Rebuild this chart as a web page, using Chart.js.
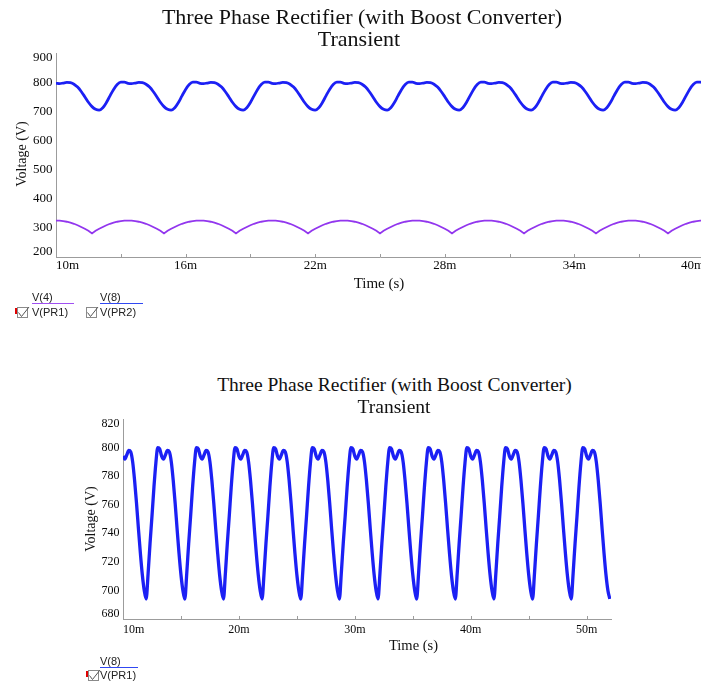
<!DOCTYPE html>
<html>
<head>
<meta charset="utf-8">
<title>Three Phase Rectifier (with Boost Converter)</title>
<script src="https://cdn.jsdelivr.net/npm/chart.js@4.4.1/dist/chart.umd.min.js"></script>
<style>
  html, body { margin: 0; padding: 0; background: #fff; overflow: hidden; }
  #page { position: relative; width: 701px; height: 682px; overflow: hidden; background: #fff; }
  canvas { position: absolute; left: 0; }
  .txt { position: absolute; white-space: nowrap; line-height: 1; color: #111; }
  .serif { font-family: "Liberation Serif", "Times New Roman", serif; }
  .sans { font-family: "Liberation Sans", Arial, sans-serif; color: #222; }
  .c { transform: translate(-50%, -50%); }
  .rot { transform: translate(-50%, -50%) rotate(-90deg); }
  .lg { transform: translateY(-50%); }
  .swatch { position: absolute; }
  .mark { position: absolute; width: 2px; background: #e00000; }
  .box { position: absolute; }
</style>
</head>
<body>
<div id="page">
  <canvas id="topChart" width="720" height="287" style="top:0px;width:720px;height:287px"></canvas>
  <canvas id="bottomChart" width="701" height="250" style="top:399px;width:701px;height:250px"></canvas>

  <div class="txt serif c" style="left:362px;top:17px;font-size:22px">Three Phase Rectifier (with Boost Converter)</div>
  <div class="txt serif c" style="left:359px;top:39px;font-size:22px">Transient</div>
  <div class="txt serif rot" style="left:22px;top:154px;font-size:14px">Voltage (V)</div>
  <div class="txt serif c" style="left:379px;top:283px;font-size:15px">Time (s)</div>

  <div class="txt serif c" style="left:394.5px;top:385px;font-size:19.5px">Three Phase Rectifier (with Boost Converter)</div>
  <div class="txt serif c" style="left:394px;top:407px;font-size:19.5px">Transient</div>
  <div class="txt serif rot" style="left:91px;top:519px;font-size:14px">Voltage (V)</div>
  <div class="txt serif c" style="left:413.5px;top:645px;font-size:14.5px">Time (s)</div>

  <div id="legends"></div>
</div>

<script>
// Simulation time base, milliseconds (one sample every 1/6 ms)
const TIME_MS = [
  10,10.167,10.333,10.5,10.667,10.833,
  11,11.167,11.333,11.5,11.667,11.833,
  12,12.167,12.333,12.5,12.667,12.833,
  13,13.167,13.333,13.5,13.667,13.833,
  14,14.167,14.333,14.5,14.667,14.833,
  15,15.167,15.333,15.5,15.667,15.833,
  16,16.167,16.333,16.5,16.667,16.833,
  17,17.167,17.333,17.5,17.667,17.833,
  18,18.167,18.333,18.5,18.667,18.833,
  19,19.167,19.333,19.5,19.667,19.833,
  20,20.167,20.333,20.5,20.667,20.833,
  21,21.167,21.333,21.5,21.667,21.833,
  22,22.167,22.333,22.5,22.667,22.833,
  23,23.167,23.333,23.5,23.667,23.833,
  24,24.167,24.333,24.5,24.667,24.833,
  25,25.167,25.333,25.5,25.667,25.833,
  26,26.167,26.333,26.5,26.667,26.833,
  27,27.167,27.333,27.5,27.667,27.833,
  28,28.167,28.333,28.5,28.667,28.833,
  29,29.167,29.333,29.5,29.667,29.833,
  30,30.167,30.333,30.5,30.667,30.833,
  31,31.167,31.333,31.5,31.667,31.833,
  32,32.167,32.333,32.5,32.667,32.833,
  33,33.167,33.333,33.5,33.667,33.833,
  34,34.167,34.333,34.5,34.667,34.833,
  35,35.167,35.333,35.5,35.667,35.833,
  36,36.167,36.333,36.5,36.667,36.833,
  37,37.167,37.333,37.5,37.667,37.833,
  38,38.167,38.333,38.5,38.667,38.833,
  39,39.167,39.333,39.5,39.667,39.833,
  40,40.167,40.333,40.5,40.667,40.833,
  41,41.167,41.333,41.5,41.667,41.833,
  42,42.167,42.333,42.5,42.667,42.833,
  43,43.167,43.333,43.5,43.667,43.833,
  44,44.167,44.333,44.5,44.667,44.833,
  45,45.167,45.333,45.5,45.667,45.833,
  46,46.167,46.333,46.5,46.667,46.833,
  47,47.167,47.333,47.5,47.667,47.833,
  48,48.167,48.333,48.5,48.667,48.833,
  49,49.167,49.333,49.5,49.667,49.833,
  50,50.167,50.333,50.5,50.667,50.833,
  51,51.167,51.333,51.5,51.667,51.833,
  52
];

// Rectified bus V(4), 10 ms .. 40 ms
const TOP_V4 = [
  325,325,323,321,318,314,309,303,297,290,281,290,297,303,309,314,318,321,323,325,
  325,325,323,321,318,314,309,303,297,290,281,290,297,303,309,314,318,321,323,325,
  325,325,323,321,318,314,309,303,297,290,281,290,297,303,309,314,318,321,323,325,
  325,325,323,321,318,314,309,303,297,290,281,290,297,303,309,314,318,321,323,325,
  325,325,323,321,318,314,309,303,297,290,281,290,297,303,309,314,318,321,323,325,
  325,325,323,321,318,314,309,303,297,290,281,290,297,303,309,314,318,321,323,325,
  325,325,323,321,318,314,309,303,297,290,281,290,297,303,309,314,318,321,323,325,
  325,325,323,321,318,314,309,303,297,290,281,290,297,303,309,314,318,321,323,325,
  325,325,323,321,318,314,309,303,297,290,281,290,297,303,309,314,318,321,323,325,
  325
];

// Boost output V(8), probe PR2, 10 ms .. 40 ms
const TOP_V8 = [
  796,795,797,799,798,793,783,768,750,731,716,707,
  704,712,730,753,775,792,800,800,796,795,797,799,798,793,783,768,750,731,716,707,
  704,712,730,753,775,792,800,800,796,795,797,799,798,793,783,768,750,731,716,707,
  704,712,730,753,775,792,800,800,796,795,797,799,798,793,783,768,750,731,716,707,
  704,712,730,753,775,792,800,800,796,795,797,799,798,793,783,768,750,731,716,707,
  704,712,730,753,775,792,800,800,796,795,797,799,798,793,783,768,750,731,716,707,
  704,712,730,753,775,792,800,800,796,795,797,799,798,793,783,768,750,731,716,707,
  704,712,730,753,775,792,800,800,796,795,797,799,798,793,783,768,750,731,716,707,
  704,712,730,753,775,792,800,800,796,795,797,799,798,793,783,768,750,731,716,707,
  704,712,730,753,775,792,800,800,796
];

// Boost output V(8), probe PR1, 10 ms .. 52 ms
const BOTTOM_V8 = [
  794,792,795,798,797,790,777,761,743,726,711,700,
  694,712,733,752,772,789,800,799,794,792,795,798,797,790,777,761,743,726,711,700,
  694,712,733,752,772,789,800,799,794,792,795,798,797,790,777,761,743,726,711,700,
  694,712,733,752,772,789,800,799,794,792,795,798,797,790,777,761,743,726,711,700,
  694,712,733,752,772,789,800,799,794,792,795,798,797,790,777,761,743,726,711,700,
  694,712,733,752,772,789,800,799,794,792,795,798,797,790,777,761,743,726,711,700,
  694,712,733,752,772,789,800,799,794,792,795,798,797,790,777,761,743,726,711,700,
  694,712,733,752,772,789,800,799,794,792,795,798,797,790,777,761,743,726,711,700,
  694,712,733,752,772,789,800,799,794,792,795,798,797,790,777,761,743,726,711,700,
  694,712,733,752,772,789,800,799,794,792,795,798,797,790,777,761,743,726,711,700,
  694,712,733,752,772,789,800,799,794,792,795,798,797,790,777,761,743,726,711,700,
  694,712,733,752,772,789,800,799,794,792,795,798,797,790,777,761,743,726,711,700,
  694,712,733,752,772,789,800,799,794,792,795,798,797,790,777,761,743,726,711,700,
  694
];

// Axis ticks (time in ms, voltage in V)
const TOP_X_MAJOR = [10, 16, 22, 28, 34, 40];
const TOP_X_MINOR = [13, 19, 25, 31, 37];
const TOP_Y_TICKS = [200, 300, 400, 500, 600, 700, 800, 900];
const BOTTOM_X_MAJOR = [10, 20, 30, 40, 50];
const BOTTOM_X_MINOR = [15, 25, 35, 45];
const BOTTOM_Y_TICKS = [680, 700, 720, 740, 760, 780, 800, 820];

// Legend entries: trace name, probe name
const TOP_TRACES = ['V(4)', 'V(8)'];
const TOP_PROBES = ['V(PR1)', 'V(PR2)'];
const BOTTOM_TRACES = ['V(8)'];
const BOTTOM_PROBES = ['V(PR1)'];

const PURPLE = '#9236ee';
const BLUE = '#1c20f4';
const AXIS = '#9c9c9c';
const SERIF = '"Liberation Serif", "Times New Roman", serif';

function pairs(xs, ys) {
  return ys.map((y, i) => ({ x: xs[i], y }));
}

// Draws the probe-style tick marks and tick labels from the chart's scales
const tickPainter = {
  id: 'tickPainter',
  afterDraw(chart, args, o) {
    const { ctx, chartArea: a } = chart;
    const xs = chart.scales.x, ys = chart.scales.y;
    ctx.save();
    ctx.strokeStyle = AXIS;
    ctx.lineWidth = 1;
    o.xMajor.concat(o.xMinor).forEach(v => {
      const px = Math.round(xs.getPixelForValue(v)) + 0.5;
      ctx.beginPath();
      ctx.moveTo(px, a.bottom);
      ctx.lineTo(px, a.bottom - 3);
      ctx.stroke();
    });
    ctx.fillStyle = '#0a0a0a';
    ctx.font = o.fontSize + 'px ' + SERIF;
    ctx.textBaseline = 'middle';
    o.xMajor.forEach(v => {
      const label = v + 'm';
      const px = xs.getPixelForValue(v);
      const w = ctx.measureText(label).width;
      let align = 'center';
      if (px - w / 2 < a.left) align = 'left';
      else if (px + w / 2 > a.right) align = 'right';
      ctx.textAlign = align;
      ctx.fillText(label, px, a.bottom + o.xGap);
    });
    ctx.textAlign = 'right';
    o.yTicks.forEach((v, i) => {
      let py = ys.getPixelForValue(v);
      if (i === 0) py -= o.yEnd;
      else if (i === o.yTicks.length - 1) py += o.yEnd;
      ctx.fillText(String(v), a.left - o.yGap, py);
    });
    ctx.restore();
  }
};

function baseOptions(p) {
  return {
    responsive: false,
    animation: false,
    devicePixelRatio: 1,
    events: [],
    layout: { padding: { top: p.padTop, right: p.padRight, bottom: 0, left: 0 } },
    elements: { point: { radius: 0 } },
    plugins: {
      legend: { display: false },
      tooltip: { enabled: false },
      title: { display: false },
      tickPainter: {
        xMajor: p.xMajor, xMinor: p.xMinor, yTicks: p.yTicks,
        fontSize: p.fontSize, xGap: p.xGap, yGap: 3.5, yEnd: 5
      }
    },
    scales: {
      x: {
        type: 'linear', min: p.xMin, max: p.xMax,
        grid: { display: false },
        border: { display: true, color: AXIS, width: 1 },
        ticks: { display: false, includeBounds: false },
        afterBuildTicks: s => { s.ticks = p.xMajor.concat(p.xMinor).sort((m, n) => m - n).map(v => ({ value: v })); },
        afterFit: s => { s.height = 30; }
      },
      y: {
        type: 'linear', min: p.yTicks[0], max: p.yTicks[p.yTicks.length - 1],
        grid: { display: false },
        border: { display: true, color: AXIS, width: 1 },
        ticks: { display: false },
        afterBuildTicks: s => { s.ticks = p.yTicks.map(v => ({ value: v })); },
        afterFit: s => { s.width = p.axisLeft; }
      }
    }
  };
}

new Chart(document.getElementById('topChart'), {
  type: 'line',
  data: {
    datasets: [
      { label: TOP_TRACES[0], data: pairs(TIME_MS, TOP_V4), borderColor: PURPLE, borderWidth: 1.8, tension: 0, fill: false },
      { label: TOP_TRACES[1], data: pairs(TIME_MS, TOP_V8), borderColor: BLUE, borderWidth: 2.8, cubicInterpolationMode: 'monotone', fill: false }
    ]
  },
  options: baseOptions({
    padTop: 53, padRight: 16, axisLeft: 56,
    xMin: 10, xMax: 40, xMajor: TOP_X_MAJOR, xMinor: TOP_X_MINOR,
    yTicks: TOP_Y_TICKS, fontSize: 13, xGap: 8.5
  }),
  plugins: [tickPainter]
});

new Chart(document.getElementById('bottomChart'), {
  type: 'line',
  data: {
    datasets: [
      {
        label: BOTTOM_TRACES[0], data: pairs(TIME_MS, BOTTOM_V8), borderColor: BLUE, borderWidth: 3.3,
        borderJoinStyle: 'round', cubicInterpolationMode: 'monotone', fill: false
      }
    ]
  },
  options: baseOptions({
    padTop: 20, padRight: 90, axisLeft: 123,
    xMin: 10, xMax: 52.1, xMajor: BOTTOM_X_MAJOR, xMinor: BOTTOM_X_MINOR,
    yTicks: BOTTOM_Y_TICKS, fontSize: 12, xGap: 11
  }),
  plugins: [tickPainter]
});

// Probe legend under each plot: checkbox, trace name over coloured rule, probe name
function addLegend(root, items) {
  items.forEach(it => {
    if (it.flag) {
      const m = document.createElement('div');
      m.className = 'mark';
      m.style.left = (it.boxX - 2) + 'px';
      m.style.top = (it.probeY - 4) + 'px';
      m.style.height = '6px';
      root.appendChild(m);
    }
    const box = document.createElement('div');
    box.className = 'box';
    box.style.left = it.boxX + 'px';
    box.style.top = (it.probeY - 8) + 'px';
    box.innerHTML = '<svg width="13" height="12" viewBox="0 0 13 12">' +
      '<rect x="0.5" y="1.5" width="10" height="10" fill="none" stroke="#8a8a8a" stroke-width="1"/>' +
      '<polyline points="1.5,6.5 4.5,10.5 12,1" fill="none" stroke="#555" stroke-width="1"/></svg>';
    root.appendChild(box);

    const t = document.createElement('div');
    t.className = 'txt sans lg';
    t.style.left = it.textX + 'px';
    t.style.top = it.traceY + 'px';
    t.style.fontSize = '11px';
    t.textContent = it.trace;
    root.appendChild(t);

    const rule = document.createElement('div');
    rule.className = 'swatch';
    rule.style.left = it.textX + 'px';
    rule.style.top = it.ruleY + 'px';
    rule.style.width = it.ruleW + 'px';
    rule.style.height = '1.8px';
    rule.style.background = it.color;
    root.appendChild(rule);

    const p = document.createElement('div');
    p.className = 'txt sans lg';
    p.style.left = it.textX + 'px';
    p.style.top = it.probeY + 'px';
    p.style.fontSize = '11px';
    p.textContent = it.probe;
    root.appendChild(p);
  });
}

const legendRoot = document.getElementById('legends');
addLegend(legendRoot, [
  { trace: TOP_TRACES[0], probe: TOP_PROBES[0], color: '#a050f2', boxX: 17, textX: 32, traceY: 297, ruleY: 302.5, ruleW: 42, probeY: 312, flag: true },
  { trace: TOP_TRACES[1], probe: TOP_PROBES[1], color: '#3048f2', boxX: 86, textX: 100, traceY: 297, ruleY: 302.5, ruleW: 43, probeY: 312, flag: false },
  { trace: BOTTOM_TRACES[0], probe: BOTTOM_PROBES[0], color: '#3048f2', boxX: 88, textX: 100, traceY: 661, ruleY: 666.5, ruleW: 38, probeY: 675, flag: true }
]);
</script>
</body>
</html>
